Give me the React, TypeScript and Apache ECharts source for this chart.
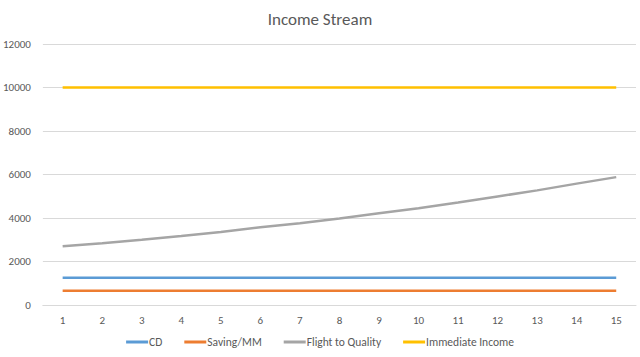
import React, { useEffect, useRef } from "react";
import * as echarts from "echarts";

const categories = ["1", "2", "3", "4", "5", "6", "7", "8", "9", "10", "11", "12", "13", "14", "15"];
const cd = [1250, 1250, 1250, 1250, 1250, 1250, 1250, 1250, 1250, 1250, 1250, 1250, 1250, 1250, 1250];
const savingMM = [650, 650, 650, 650, 650, 650, 650, 650, 650, 650, 650, 650, 650, 650, 650];
const flightToQuality = [2700, 2840, 3000, 3170, 3360, 3570, 3760, 3980, 4220, 4450, 4710, 4990, 5270, 5580, 5880];
const immediateIncome = [10000, 10000, 10000, 10000, 10000, 10000, 10000, 10000, 10000, 10000, 10000, 10000, 10000, 10000, 10000];

const seriesNames = ["CD", "Saving/MM", "Flight to Quality", "Immediate Income"];
const seriesColors = ["#5b9bd5", "#ed7d31", "#a5a5a5", "#ffc000"];
const seriesData = [cd, savingMM, flightToQuality, immediateIncome];

export default function App() {
  const ref = useRef<HTMLDivElement>(null);
  useEffect(() => {
    if (!ref.current) return;
    const chart = echarts.init(ref.current, null, { renderer: "svg" });
    const font = "Calibri, 'Liberation Sans', 'Open Sans', sans-serif";
    chart.setOption({
      animation: false,
      backgroundColor: "#ffffff",
      title: {
        text: "Income Stream",
        left: "center",
        top: 6,
        textStyle: { fontSize: 17, fontWeight: "normal", color: "#595959", fontFamily: font },
      },
      legend: {
        bottom: 4,
        left: "center",
        icon: "rect",
        itemWidth: 22,
        itemHeight: 3,
        itemGap: 22,
        textStyle: { fontSize: 11.5, color: "#595959", fontFamily: font, padding: [0, 0, 0, -4] },
        data: seriesNames,
      },
      grid: { left: 42, right: 4, top: 44, bottom: 52, containLabel: false },
      xAxis: {
        type: "category",
        data: categories,
        boundaryGap: true,
        axisLine: { show: true, lineStyle: { color: "#d9d9d9" } },
        axisTick: { show: false },
        axisLabel: { color: "#595959", fontSize: 11, fontFamily: font, margin: 10 },
      },
      yAxis: {
        type: "value",
        min: 0,
        max: 12000,
        interval: 2000,
        axisLine: { show: false },
        axisTick: { show: false },
        splitLine: { lineStyle: { color: "#d9d9d9" } },
        axisLabel: {
          color: "#595959",
          fontSize: 11,
          fontFamily: font,
          margin: 12,
          formatter: (v: number) => String(v),
        },
      },
      series: seriesNames.map((name, i) => ({
        name,
        type: "line",
        data: seriesData[i],
        showSymbol: false,
        symbol: "none",
        smooth: false,
        color: seriesColors[i],
        lineStyle: { width: 2.5, color: seriesColors[i] },
      })),
    });
    return () => chart.dispose();
  }, []);
  return <div ref={ref} style={{ width: 640, height: 357, position: "absolute", left: 0, top: 0 }} />;
}
